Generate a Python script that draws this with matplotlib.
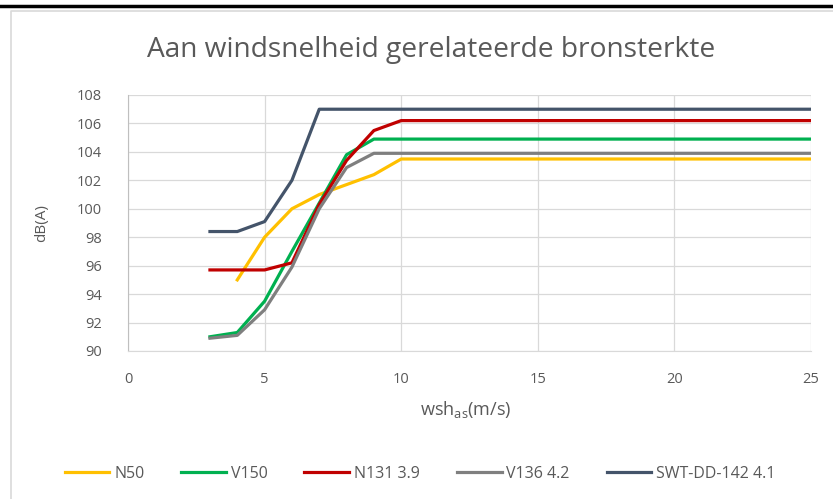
import matplotlib
matplotlib.use("Agg")
import matplotlib.pyplot as plt
from matplotlib.lines import Line2D

FONT = ['Open Sans', 'DejaVu Sans']
plt.rcParams['font.family'] = FONT
plt.rcParams['mathtext.fontset'] = 'custom'
plt.rcParams['mathtext.rm'] = 'Open Sans'
plt.rcParams['mathtext.it'] = 'Open Sans'

x_all = list(range(3, 26))
x_n50 = list(range(4, 26))
n50 = [95.0, 98.0, 100.0, 101.0, 101.7, 102.4, 103.5] + [103.5] * 15
v150 = [91.0, 91.3, 93.5, 97.0, 100.4, 103.8, 104.9, 104.9] + [104.9] * 15
n131 = [95.7, 95.7, 95.7, 96.2, 100.3, 103.4, 105.5, 106.2] + [106.2] * 15
v136 = [90.9, 91.1, 92.9, 95.9, 100.0, 102.9, 103.9, 103.9] + [103.9] * 15
swt = [98.4, 98.4, 99.1, 102.0, 107.0, 107.0, 107.0, 107.0] + [107.0] * 15

labels = ['N50', 'V150', 'N131 3.9', 'V136 4.2', 'SWT-DD-142 4.1']
colors = ['#FFC000', '#00B050', '#C00000', '#7F7F7F', '#44546A']
title = 'Aan windsnelheid gerelateerde bronsterkte'
xlabel = r'wsh$_{\mathrm{as}}$(m/s)'
ylabel = 'dB(A)'
xticks = [0, 5, 10, 15, 20, 25]
yticks = list(range(90, 109, 2))

W, H = 833, 499
TXT = '#595959'
fig = plt.figure(figsize=(W / 100, H / 100), dpi=100)
fx = lambda px: px / W
fy = lambda py: 1 - py / H

# page artefacts: black line at top, chart border
fig.add_artist(Line2D([0, 1], [fy(6), fy(6)], color='black', lw=2.5))
fig.add_artist(Line2D([fx(11), fx(11), 1], [0, fy(11), fy(11)], color='#D9D9D9', lw=1.2))

ax = fig.add_axes([fx(128), fy(351), fx(811) - fx(128), fy(95) - fy(351)])
series = [(x_n50, n50), (x_all, v150), (x_all, n131), (x_all, v136), (x_all, swt)]
for (xs, ys), lab, c in zip(series, labels, colors):
    ax.plot(xs, ys, color=c, lw=2.3, label=lab, solid_joinstyle='round')

ax.set_xlim(0, 25)
ax.set_ylim(90, 108)
ax.set_xticks(xticks)
ax.set_yticks(yticks)
ax.grid(True, color='#D9D9D9', lw=0.9)
ax.set_axisbelow(True)
for s in ['top', 'right']:
    ax.spines[s].set_visible(False)
ax.spines['left'].set_color('#BFBFBF')
ax.spines['bottom'].set_color('#D9D9D9')
ax.tick_params(axis='y', length=0, colors=TXT, labelsize=10.5, pad=19)
ax.tick_params(axis='x', length=0, colors=TXT, labelsize=10.5, pad=15)

renderer = fig.canvas.get_renderer()

def fit_text(t, target_w):
    for _ in range(3):
        w = t.get_window_extent(renderer).width
        t.set_fontsize(t.get_fontsize() * target_w / w)

ttl = fig.text(fx(431), fy(50), title, ha='center', va='center', color=TXT, fontsize=18)
fit_text(ttl, 568)
xl = fig.text(fx(466), fy(410), xlabel, ha='center', va='center', color=TXT, fontsize=11)
fit_text(xl, 92)
yl = fig.text(fx(42), fy(223), ylabel, ha='center', va='center', color=TXT, fontsize=11, rotation=90)

LFS = 11.5
fs_px = LFS * 100 / 72

def make_legend(cs):
    lg = fig.legend(loc='center', bbox_to_anchor=(fx(420), fy(474)), ncol=5,
                    frameon=False, fontsize=LFS, handlelength=2.8, columnspacing=cs,
                    handletextpad=0.3, borderpad=0, borderaxespad=0)
    return lg

leg = make_legend(0.0)
base = leg.get_window_extent(renderer).width
leg.remove()
cs = max(0.5, (711 - base) / (4 * fs_px))
leg = make_legend(cs)
for t in leg.get_texts():
    t.set_color(TXT)

fig.savefig('out.png', dpi=100, facecolor='white')
